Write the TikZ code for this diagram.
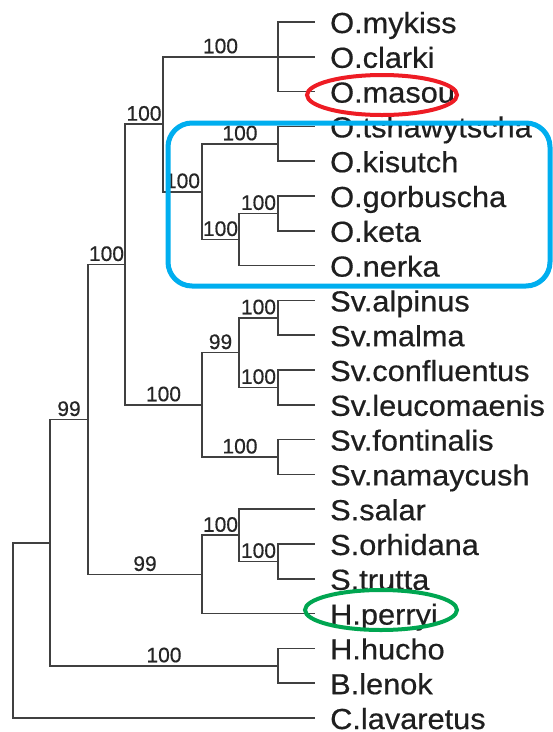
\documentclass[tikz,border=0pt]{standalone}
\usepackage{fontspec}
\setmainfont{Liberation Sans}
\newfontfamily\leaffont[FakeStretch=1.06, FakeBold=0.5]{Liberation Sans}
\newfontfamily\suppfont[FakeBold=0.4]{Liberation Sans}
\definecolor{boxblue}{HTML}{00AEEF}
\definecolor{ringred}{HTML}{EE1C24}
\definecolor{ringgreen}{HTML}{00A651}
\begin{document}
\begin{tikzpicture}[x=1pt,y=-1pt,
  br/.style={draw=black!75, line width=1.7pt},
  bs/.style={font=\suppfont\fontsize{21}{21}\selectfont, text=black!85, inner sep=0pt, anchor=south, yshift=2.5pt},
  leaf/.style={font=\leaffont\fontsize{29}{29}\selectfont, text=black!88, inner sep=0pt, anchor=base west}]
\useasboundingbox (0,0) rectangle (553,732);
\fill[white] (0,0) rectangle (553,732);

% leaves
\foreach \n/\t [count=\i from 0] in {
  t0/O.mykiss, t1/O.clarki, t2/O.masou, t3/O.tshawytscha, t4/O.kisutch,
  t5/O.gorbuscha, t6/O.keta, t7/O.nerka, t8/Sv.alpinus, t9/Sv.malma,
  t10/Sv.confluentus, t11/Sv.leucomaenis, t12/Sv.fontinalis, t13/Sv.namaycush,
  t14/S.salar, t15/S.orhidana, t16/S.trutta, t17/H.perryi, t18/H.hucho,
  t19/B.lenok, t20/C.lavaretus}{
  \coordinate (\n) at (315, 22+34.8*\i);
  \node[leaf] (L\n) at (330, 33+34.8*\i) {\t};
}

% internal nodes
\coordinate (nA) at (278, 56.8);
\coordinate (nB) at (278, 143.8);
\coordinate (nC) at (278, 213.4);
\coordinate (nD) at (239, 239.5);
\coordinate (nE) at (202, 191.65);
\coordinate (nF) at (163, 124.2);
\coordinate (nG) at (278, 317.8);
\coordinate (nH) at (278, 387.4);
\coordinate (nI) at (239, 352.6);
\coordinate (nJ) at (278, 457);
\coordinate (nK) at (202, 404.8);
\coordinate (nL) at (125, 264.5);
\coordinate (nM) at (278, 561.4);
\coordinate (nN) at (239, 535.3);
\coordinate (nO) at (202, 574.45);
\coordinate (nP) at (88, 419.5);
\coordinate (nQ) at (278, 665.8);
\coordinate (nR) at (50, 542.65);
\coordinate (nS) at (13, 630.3);

% terminal branches
\draw[br] (nA) |- (t0);
\draw[br] (nA) |- (t1);
\draw[br] (nA) |- (t2);
\draw[br] (nB) |- (t3);
\draw[br] (nB) |- (t4);
\draw[br] (nC) |- (t5);
\draw[br] (nC) |- (t6);
\draw[br] (nD) |- (t7);
\draw[br] (nG) |- (t8);
\draw[br] (nG) |- (t9);
\draw[br] (nH) |- (t10);
\draw[br] (nH) |- (t11);
\draw[br] (nJ) |- (t12);
\draw[br] (nJ) |- (t13);
\draw[br] (nN) |- (t14);
\draw[br] (nM) |- (t15);
\draw[br] (nM) |- (t16);
\draw[br] (nO) |- (t17);
\draw[br] (nQ) |- (t18);
\draw[br] (nQ) |- (t19);
\draw[br] (nS) |- (t20);

% internal branches with support values
\draw[br] (nF) |- node[bs,pos=0.75]{100} (nA);
\draw[br] (nL) |- node[bs,pos=0.75]{100} (nF);
\draw[br] (nF) |- node[bs,pos=0.75]{100} (nE);
\draw[br] (nE) |- node[bs,pos=0.75]{100} (nB);
\draw[br] (nE) |- node[bs,pos=0.75]{100} (nD);
\draw[br] (nD) |- node[bs,pos=0.75]{100} (nC);
\draw[br] (nP) |- node[bs,pos=0.75]{100} (nL);
\draw[br] (nL) |- node[bs,pos=0.75]{100} (nK);
\draw[br] (nK) |- node[bs,pos=0.75]{99} (nI);
\draw[br] (nI) |- node[bs,pos=0.75]{100} (nG);
\draw[br] (nI) |- node[bs,pos=0.75]{100} (nH);
\draw[br] (nK) |- node[bs,pos=0.75]{100} (nJ);
\draw[br] (nR) |- node[bs,pos=0.75]{99} (nP);
\draw[br] (nP) |- node[bs,pos=0.75]{99} (nO);
\draw[br] (nO) |- node[bs,pos=0.75]{100} (nN);
\draw[br] (nN) |- node[bs,pos=0.75]{100} (nM);
\draw[br] (nR) |- node[bs,pos=0.75]{100} (nQ);
\draw[br] (nS) |- (nR);

% highlights
\draw[line width=5pt, draw=boxblue, rounded corners=24pt] (168,123) rectangle (550,286);
\draw[line width=4pt, draw=ringred] (382,95) ellipse [x radius=75pt, y radius=20pt];
\draw[line width=4pt, draw=ringgreen] (381,610) ellipse [x radius=76pt, y radius=20pt];
\end{tikzpicture}
\end{document}
